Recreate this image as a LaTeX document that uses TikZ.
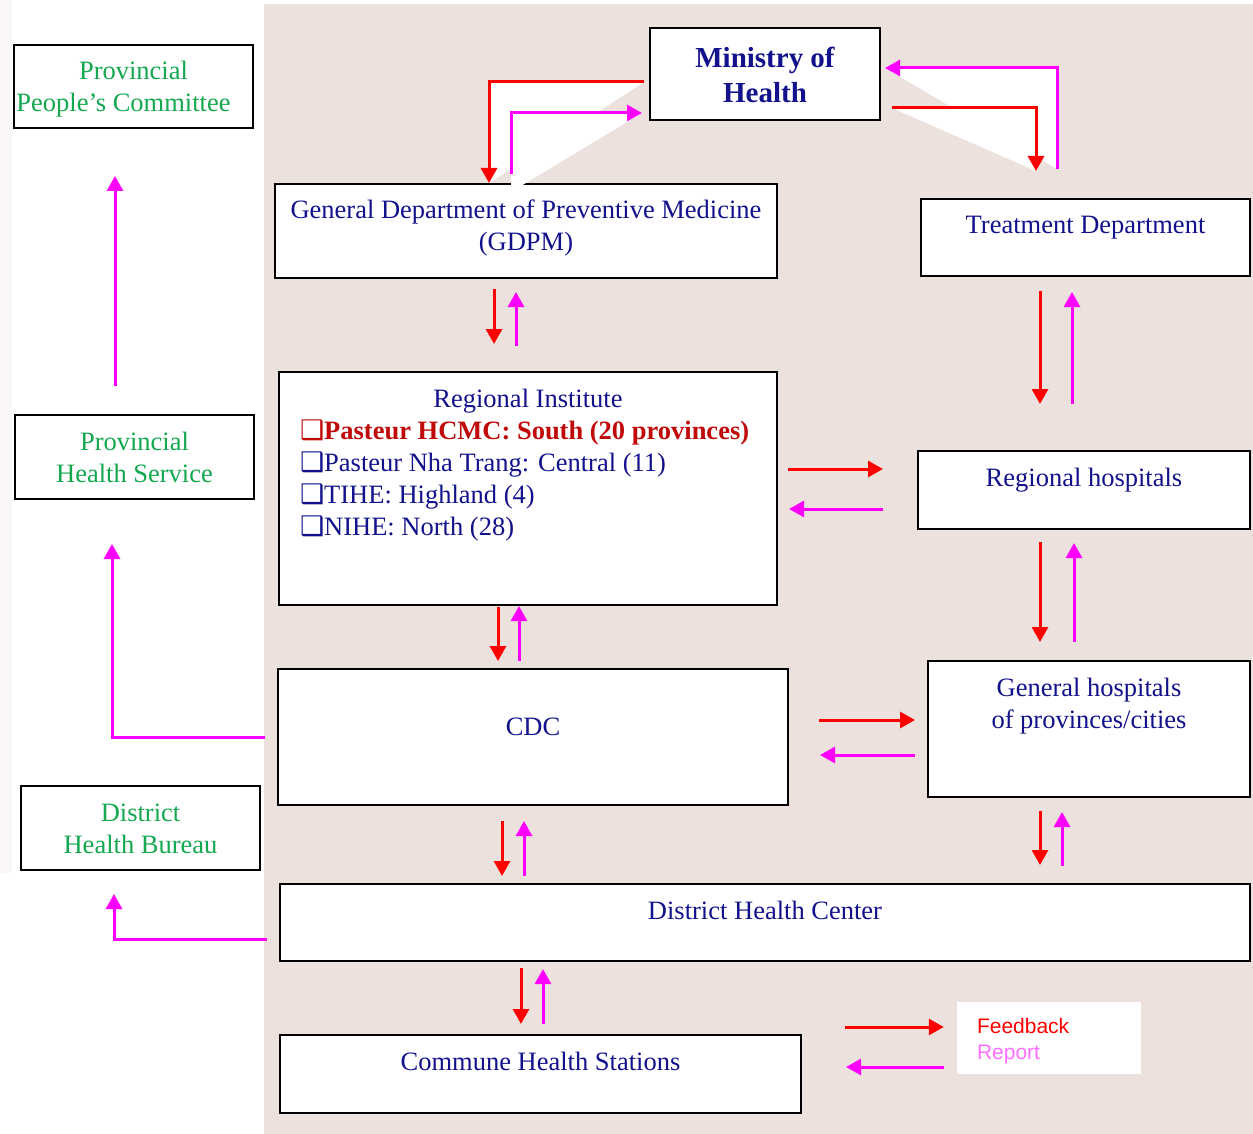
\documentclass[tikz,border=0pt]{standalone}
\usepackage{fontspec}
\setmainfont{Liberation Serif}
\newfontfamily\keyfont{Liberation Sans}
\newfontfamily\glyphfont{DejaVu Sans}
\usetikzlibrary{arrows.meta,calc}

\definecolor{navy}{RGB}{18,18,140}
\definecolor{govgreen}{RGB}{20,168,80}
\definecolor{hcmc}{RGB}{192,10,10}
\definecolor{fbred}{RGB}{255,0,0}
\definecolor{rpmag}{RGB}{255,0,255}
\definecolor{rplight}{RGB}{255,110,255}
\definecolor{panel}{RGB}{237,225,221}
\definecolor{strip}{RGB}{251,246,246}

\newcommand{\unittext}[4][12.6pt]{\parbox[c][#3][t]{#2}{\centering\vspace*{#1}\strut #4}}
\newcommand{\listbox}{{\glyphfont\fontsize{27}{32}\selectfont ❑}}

\begin{document}
\begin{tikzpicture}[x=1pt,y=-1pt,
  unit/.style={draw,line width=2pt,fill=white,inner sep=0pt,text=navy,
    font=\fontsize{26.5}{32}\selectfont},
  fb/.style={draw=fbred,line width=3pt,-{Triangle[length=15pt,width=16pt]}},
  rp/.style={draw=rpmag,line width=3pt,-{Triangle[length=15pt,width=16pt]}}]
  \useasboundingbox (0,0) rectangle (1253,1134);
  \fill[white] (0,0) rectangle (1253,1134);
  \fill[strip] (0,0) rectangle (12,873);
  \fill[panel] (264,4) rectangle (1253,1134);
  %%
  \node[unit] (MoH) at (765,74) {
    \unittext[17.6pt]{230pt}{92pt}{\bfseries\fontsize{29}{35}\selectfont Ministry of\\Health}
  };
  \node[unit] (GDPM) at (526,231) {
    \unittext{502pt}{94pt}{General Department of Preventive Medicine\\(GDPM)}
  };
  \node[unit] (TD) at (1085.5,237.5) {
    \unittext{329pt}{77pt}{Treatment Department}
  };
  \node[unit] (RI) at (528,488.5) {
    \unittext{498pt}{233pt}{Regional Institute\par
      \raggedright\leftskip=21pt
      {\color{hcmc}\bfseries\listbox Pasteur HCMC: South (20 provinces)}\\
      \listbox Pasteur Nha Trang: Central (11)\\
      \listbox TIHE: Highland (4)\\
      \listbox NIHE: North (28)}
  };
  \node[unit] (RH) at (1084,490) {
    \unittext{332pt}{78pt}{Regional hospitals}
  };
  \node[unit] (CDC) at (533,737) {
    \unittext[43.6pt]{510pt}{136pt}{CDC}
  };
  \node[unit] (GH) at (1089,729) {
    \unittext{322pt}{136pt}{General hospitals\\of provinces/cities}
  };
  \node[unit] (DHC) at (765,922.5) {
    \unittext{970pt}{77pt}{District Health Center}
  };
  \node[unit] (CHS) at (540.5,1074) {
    \unittext{521pt}{78pt}{Commune Health Stations}
  };
  %% local government side
  \node[unit,text=govgreen] (PPC) at (133.5,86.5) {
    \unittext{239pt}{83pt}{Provincial\hspace*{20pt}\\People’s Committee\hspace*{20pt}}
  };
  \node[unit,text=govgreen] (PHS) at (134.5,457) {
    \unittext{239pt}{84pt}{Provincial\\Health Service}
  };
  \node[unit,text=govgreen] (DHB) at (140.5,828) {
    \unittext{239pt}{84pt}{District\\Health Bureau}
  };
  %% key
  \node[fill=white,inner sep=0pt] (Key) at (1049,1038) {
    \parbox[c][72pt][t]{184pt}{\keyfont\fontsize{21}{26}\selectfont
      \raggedright\leftskip=20pt\vspace*{13.3pt}
      \strut\textcolor{fbred}{Feedback}\\\textcolor{rplight}{Report}}
  };
  \coordinate (FBkey) at (845,1027);
  \coordinate (RPkey) at (846,1067);

  % white corners of the bent arrows
  \fill[white] ([xshift=-5pt,yshift=-8pt]MoH.west) -| ([xshift=-37pt]GDPM.north) -- cycle;
  \fill[white] ([xshift=-15pt,yshift=-9pt]GDPM.north) |- ([xshift=-7pt,yshift=-39pt]MoH.west) -- cycle;
  \fill[white] ([xshift=11pt,yshift=-34pt]MoH.east) -| ([xshift=-49.5pt,yshift=27pt]TD.north) -- cycle;
  \fill[white] ([xshift=-28.5pt,yshift=29pt]TD.north) |- ([xshift=4pt,yshift=6pt]MoH.east) -- cycle;

  \draw[fb,shorten <=5pt] ([yshift=-8pt]MoH.west) -| ([xshift=-37pt]GDPM.north);
  \draw[rp,shorten <=9pt,shorten >=7pt] ([xshift=-15pt]GDPM.north) |- ([yshift=-39pt]MoH.west);
  \draw[fb,shorten <=11pt,shorten >=27pt] ([yshift=-34pt]MoH.east) -| ([xshift=-49.5pt]TD.north);
  \draw[rp,shorten <=29pt,shorten >=4pt] ([xshift=-28.5pt]TD.north) |- ([yshift=6pt]MoH.east);

  \draw[fb,shorten <=10pt,shorten >=27pt] ([xshift=-32pt]GDPM.south) -- ([xshift=-32pt]GDPM.south |- RI.north);
  \draw[rp,shorten <=25pt,shorten >=13pt] ([xshift=-10pt]GDPM.south |- RI.north) -- ([xshift=-10pt]GDPM.south);
  \draw[fb,shorten <=14pt,shorten >=46pt] ([xshift=-45.5pt]TD.south) -- ([xshift=-45.5pt]TD.south |- RH.north);
  \draw[rp,shorten <=46pt,shorten >=15pt] ([xshift=-13.5pt]TD.south |- RH.north) -- ([xshift=-13.5pt]TD.south);

  \draw[fb,shorten <=10pt,shorten >=34pt] ([yshift=19.5pt]RI.east) -- ([yshift=19.5pt]RI.east -| RH.west);
  \draw[rp,shorten <=34pt,shorten >=11pt] ([yshift=-20.5pt]RI.east -| RH.west) -- ([yshift=-20.5pt]RI.east);

  \draw[fb,shorten <=1pt,shorten >=7pt] ([xshift=-30pt]RI.south) -- ([xshift=-30pt]RI.south |- CDC.north);
  \draw[rp,shorten <=7pt] ([xshift=-9pt]RI.south |- CDC.north) -- ([xshift=-9pt]RI.south);
  \draw[fb,shorten <=12pt,shorten >=18pt] ([xshift=-44pt]RH.south) -- ([xshift=-44pt]RH.south |- GH.north);
  \draw[rp,shorten <=18pt,shorten >=13pt] ([xshift=-10pt]RH.south |- GH.north) -- ([xshift=-10pt]RH.south);

  \draw[fb,shorten <=30pt,shorten >=12pt] ([yshift=17pt]CDC.east) -- ([yshift=17pt]CDC.east -| GH.west);
  \draw[rp,shorten <=12pt,shorten >=31pt] ([yshift=-18pt]CDC.east -| GH.west) -- ([yshift=-18pt]CDC.east);

  \draw[fb,shorten <=15pt,shorten >=7pt] ([xshift=-31pt]CDC.south) -- ([xshift=-31pt]CDC.south |- DHC.north);
  \draw[rp,shorten <=7pt,shorten >=15pt] ([xshift=-9pt]CDC.south |- DHC.north) -- ([xshift=-9pt]CDC.south);
  \draw[fb,shorten <=13pt,shorten >=18pt] ([xshift=-49pt]GH.south) -- ([xshift=-49pt]GH.south |- DHC.north);
  \draw[rp,shorten <=17pt,shorten >=14pt] ([xshift=-27pt]GH.south |- DHC.north) -- ([xshift=-27pt]GH.south);

  \draw[fb,shorten <=6pt,shorten >=10pt] ([xshift=-19.5pt]CHS.north |- DHC.south) -- ([xshift=-19.5pt]CHS.north);
  \draw[rp,shorten <=10pt,shorten >=7pt] ([xshift=2.5pt]CHS.north) -- ([xshift=2.5pt]CHS.north |- DHC.south);

  \draw[rp,shorten <=12pt,shorten >=44pt] (CDC.west) -| ([xshift=-22.5pt]PHS.south);
  \draw[rp,shorten <=28pt,shorten >=47pt] ([xshift=-19.5pt]PHS.north) -- ([xshift=-19.5pt]PHS.north |- PPC.south);
  \draw[rp,shorten <=12pt,shorten >=23pt] ([yshift=-16.5pt]DHC.west) -| ([xshift=-26.5pt]DHB.south);

  \draw[fb,shorten >=13pt] (FBkey) -- (FBkey -| Key.west);
  \draw[rp,shorten <=13pt] (RPkey -| Key.west) -- (RPkey);
\end{tikzpicture}
\end{document}
